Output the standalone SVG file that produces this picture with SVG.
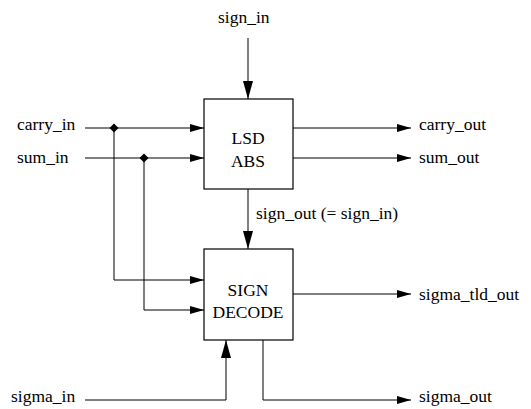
<svg xmlns="http://www.w3.org/2000/svg" width="531" height="409" viewBox="0 0 531 409">
<defs>
<style>
text{font-family:"Liberation Serif","Times New Roman",serif;font-size:17.5px;fill:#000}
.c{text-anchor:middle}
.w{fill:none;stroke:#000;stroke-width:1}
.box{fill:#fff;stroke:#000;stroke-width:1.2}
.dot{fill:#000}
</style>
<marker id="ah" viewBox="0 0 14 8" refX="14" refY="4" markerWidth="14" markerHeight="8" markerUnits="userSpaceOnUse" orient="auto"><path d="M0,0 L14,4 L0,8 Z" fill="#000"/></marker>
<marker id="av" viewBox="0 0 18 10" refX="18" refY="5" markerWidth="18" markerHeight="10" markerUnits="userSpaceOnUse" orient="auto"><path d="M0,0 L18,5 L0,10 Z" fill="#000"/></marker>
</defs>
<rect width="531" height="409" fill="#fff"/>
<g id="connectors">
<path class="w" d="M248,38 V99" marker-end="url(#av)"/>
<path class="w" d="M85,128 H204" marker-end="url(#ah)"/>
<path class="w" d="M85,158 H204" marker-end="url(#ah)"/>
<path class="w" d="M293,128 H411" marker-end="url(#ah)"/>
<path class="w" d="M293,158 H411" marker-end="url(#ah)"/>
<path class="w" d="M248,189 V249" marker-end="url(#av)"/>
<path class="w" d="M114,128 V280 H204" marker-end="url(#ah)"/>
<path class="w" d="M144,158 V310 H204" marker-end="url(#ah)"/>
<path class="w" d="M293,294 H411" marker-end="url(#ah)"/>
<path class="w" d="M85,400 H226 V340" marker-end="url(#av)"/>
<path class="w" d="M263,340 V400 H411" marker-end="url(#ah)"/>
<path class="dot" d="M114,123.5 L118.5,128 L114,132.5 L109.5,128 Z"/>
<path class="dot" d="M144,153.5 L148.5,158 L144,162.5 L139.5,158 Z"/>
</g>
<g id="lsd_abs">
<rect class="box" x="204" y="99" width="89" height="90"/>
<text class="c" x="248" y="144">LSD</text>
<text class="c" x="248" y="167">ABS</text>
</g>
<g id="sign_decode">
<rect class="box" x="204" y="249" width="89" height="91"/>
<text class="c" x="248" y="296">SIGN</text>
<text class="c" x="248" y="318">DECODE</text>
</g>
<g id="labels">
<text x="218" y="23">sign_in</text>
<text x="17" y="130">carry_in</text>
<text x="17" y="163">sum_in</text>
<text x="419" y="130">carry_out</text>
<text x="419" y="163">sum_out</text>
<text x="256" y="219">sign_out (= sign_in)</text>
<text x="419" y="300">sigma_tld_out</text>
<text x="11" y="402">sigma_in</text>
<text x="419" y="402">sigma_out</text>
</g>
</svg>
